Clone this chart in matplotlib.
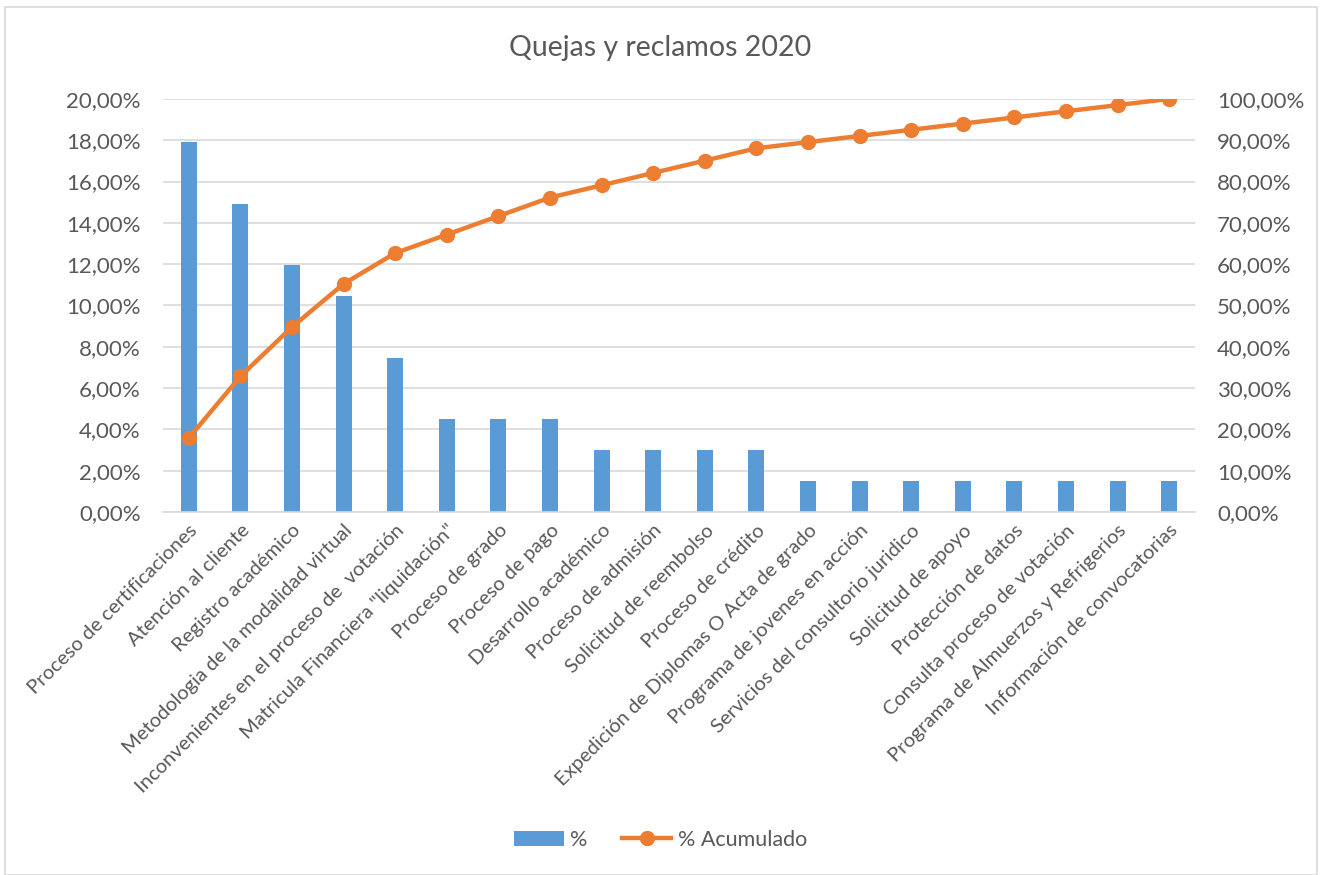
import numpy as np
import matplotlib
matplotlib.use('Agg')
import matplotlib.pyplot as plt
from matplotlib.ticker import FuncFormatter
from matplotlib.patches import Rectangle

plt.rcParams['font.family'] = ['Lato', 'DejaVu Sans']

categorias = [
    'Proceso de certificaciones', 'Atención al cliente', 'Registro académico',
    'Metodologia de la modalidad virtual', 'Inconvenientes en el proceso de  votación',
    'Matricula Financiera "liquidación"', 'Proceso de grado', 'Proceso de pago',
    'Desarrollo académico', 'Proceso de admisión', 'Solicitud de reembolso',
    'Proceso de crédito', 'Expedición de Diplomas O Acta de grado',
    'Programa de jovenes en acción', 'Servicios del consultorio juridico',
    'Solicitud de apoyo', 'Protección de datos', 'Consulta proceso de votación',
    'Programa de Almuerzos y Refrigerios', 'Información de convocatorias',
]
porcentaje = [17.91, 14.93, 11.94, 10.45, 7.46, 4.48, 4.48, 4.48, 2.99, 2.99,
              2.99, 2.99, 1.49, 1.49, 1.49, 1.49, 1.49, 1.49, 1.49, 1.49]
acumulado = [17.91, 32.84, 44.78, 55.22, 62.69, 67.16, 71.64, 76.12, 79.10, 82.09,
             85.07, 88.06, 89.55, 91.04, 92.54, 94.03, 95.52, 97.01, 98.51, 100.0]

gris = '#595959'
azul = '#5B9BD5'
naranja = '#ED7D31'

fig = plt.figure(figsize=(13.21, 8.75), dpi=100)
# borde del grafico
fig.patches.append(Rectangle((0.004, 0.0), 0.993, 0.992, transform=fig.transFigure,
                             fill=False, edgecolor='#D9D9D9', linewidth=1.2))

ax = fig.add_axes([0.1234, 0.4149, 0.7812, 0.472])
x = np.arange(len(categorias))
ax.bar(x, porcentaje, width=0.31, color=azul, label='%', zorder=2)
ax.set_xlim(-0.5, len(categorias) - 0.5)
ax.set_ylim(0, 20)
ax.set_yticks(np.arange(0, 21, 2))
ax.yaxis.set_major_formatter(FuncFormatter(lambda v, p: f'{v:.2f}%'.replace('.', ',')))
ax.grid(axis='y', color='#D9D9D9', linewidth=1.2, zorder=0)
for s in ['top', 'left', 'right']:
    ax.spines[s].set_visible(False)
ax.spines['bottom'].set_color('#D9D9D9')
ax.spines['bottom'].set_linewidth(1.2)
ax.tick_params(axis='y', length=0, colors=gris, labelsize=16, pad=16)
ax.set_xticks(x)
ax.set_xticklabels(categorias, rotation=45, ha='right', rotation_mode='anchor')
ax.tick_params(axis='x', length=0, colors=gris, labelsize=14.5, pad=7)

ax2 = ax.twinx()
ax2.plot(x, acumulado, color=naranja, linewidth=3.2, marker='o', markersize=10,
         label='% Acumulado', zorder=3)
ax2.set_ylim(0, 100)
ax2.set_yticks(np.arange(0, 101, 10))
ax2.yaxis.set_major_formatter(FuncFormatter(lambda v, p: f'{v:.2f}%'.replace('.', ',')))
for s in ax2.spines.values():
    s.set_visible(False)
ax2.tick_params(axis='y', length=0, colors=gris, labelsize=16, pad=16)

fig.text(0.5, 0.945, 'Quejas y reclamos 2020', ha='center', va='center',
         fontsize=20.5, color=gris)

h1, l1 = ax.get_legend_handles_labels()
h2, l2 = ax2.get_legend_handles_labels()
leg = fig.legend(h1 + h2, l1 + l2, loc='center', bbox_to_anchor=(0.5, 0.04),
                 ncol=2, frameon=False, fontsize=15.5, handlelength=2.3,
                 columnspacing=1.6, handletextpad=0.3)
for t in leg.get_texts():
    t.set_color(gris)

fig.savefig('out.png', dpi=100)
